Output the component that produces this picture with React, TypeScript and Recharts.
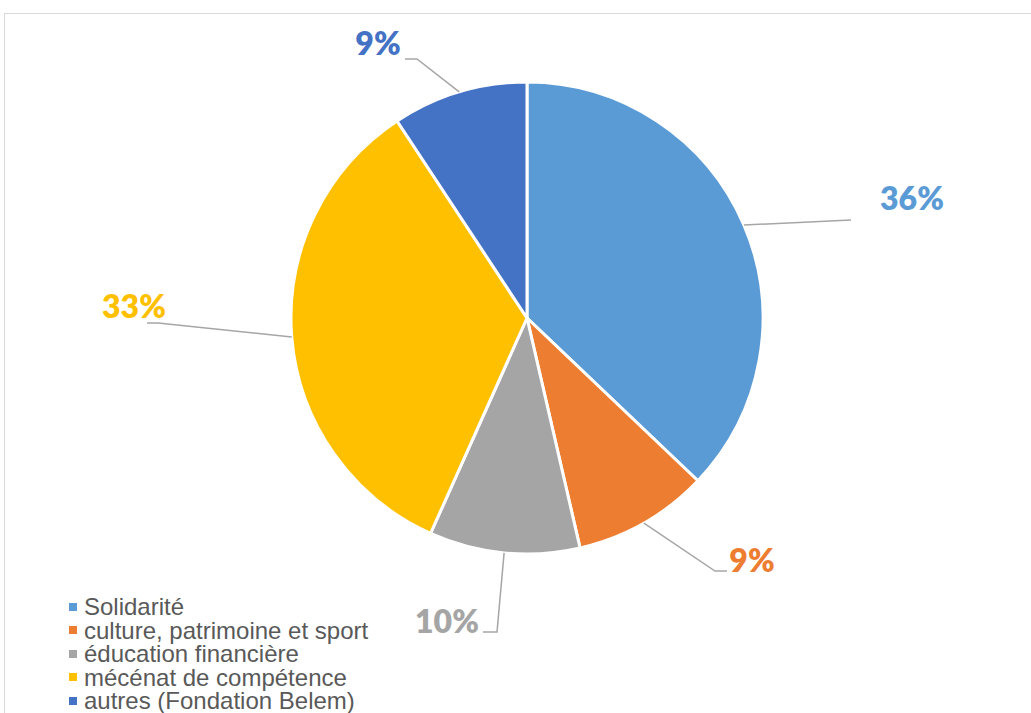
import React from 'react';
import { PieChart, Pie, Cell } from 'recharts';

const categories = [
  'Solidarité',
  'culture, patrimoine et sport',
  'éducation financière',
  'mécénat de compétence',
  'autres (Fondation Belem)',
];
const values = [36, 9, 10, 33, 9];
const percentLabels = ['36%', '9%', '10%', '33%', '9%'];
const colors = ['#5B9BD5', '#ED7D31', '#A5A5A5', '#FFC000', '#4472C4'];

// label layout: offsets relative to pie centre (leader points and text centre)
const labelLayout = [
  { pts: [[324, -98]], text: [385, -121] },
  { pts: [[188, 253], [200, 253]], text: [225, 241] },
  { pts: [[-30, 314], [-44, 314]], text: [-80, 302] },
  { pts: [[-369, 5], [-380, 5]], text: [-393, -13] },
  { pts: [[-110, -259], [-122, -259]], text: [-149, -276] },
];

const data = categories.map((name, i) => ({ name, value: values[i] }));

const RADIAN = Math.PI / 180;

const renderLabel = (props: any) => {
  const { cx, cy, midAngle, outerRadius, index } = props;
  const sx = cx + outerRadius * Math.cos(-midAngle * RADIAN);
  const sy = cy + outerRadius * Math.sin(-midAngle * RADIAN);
  const lay = labelLayout[index];
  const pts = [[sx, sy], ...lay.pts.map(([dx, dy]) => [cx + dx, cy + dy])];
  return (
    <g key={`lbl-${index}`}>
      <polyline
        points={pts.map((p) => p.join(',')).join(' ')}
        fill="none"
        stroke="#A6A6A6"
        strokeWidth={1.5}
      />
      <text
        x={cx + lay.text[0]}
        y={cy + lay.text[1]}
        textAnchor="middle"
        dominantBaseline="central"
        fill={colors[index]}
        style={{ fontFamily: 'Lato, "Open Sans", sans-serif', fontWeight: 800, fontSize: 32 }}
      >
        {percentLabels[index]}
      </text>
    </g>
  );
};

export default function App() {
  return (
    <div style={{ position: 'absolute', left: 0, top: 0, width: 1031, height: 713, overflow: 'hidden', background: '#fff' }}>
      <div style={{ position: 'absolute', left: 4, top: 13, width: 1100, height: 800, border: '1px solid #D9D9D9' }} />
      <div style={{ position: 'absolute', left: 0, top: 0 }}>
        <PieChart width={1031} height={713} margin={{ top: 0, right: 0, bottom: 0, left: 0 }}>
          <Pie
            data={data}
            dataKey="value"
            nameKey="name"
            cx={527}
            cy={318}
            outerRadius={236}
            startAngle={90}
            endAngle={-270}
            stroke="#FFFFFF"
            strokeWidth={3}
            label={renderLabel}
            labelLine={false}
            isAnimationActive={false}
          >
            {data.map((d, i) => (
              <Cell key={d.name} fill={colors[i]} />
            ))}
          </Pie>
        </PieChart>
      </div>
      <div
        style={{
          position: 'absolute',
          left: 69,
          top: 595,
          fontFamily: '"Liberation Sans", Arial, sans-serif',
          fontSize: 24,
          color: '#595959',
          lineHeight: '23.5px',
        }}
      >
        {categories.map((c, i) => (
          <div key={c} style={{ display: 'flex', alignItems: 'center', whiteSpace: 'nowrap', height: 23.5 }}>
            <span style={{ display: 'inline-block', width: 8, height: 8, background: colors[i], marginRight: 7 }} />
            <span>{c}</span>
          </div>
        ))}
      </div>
    </div>
  );
}
